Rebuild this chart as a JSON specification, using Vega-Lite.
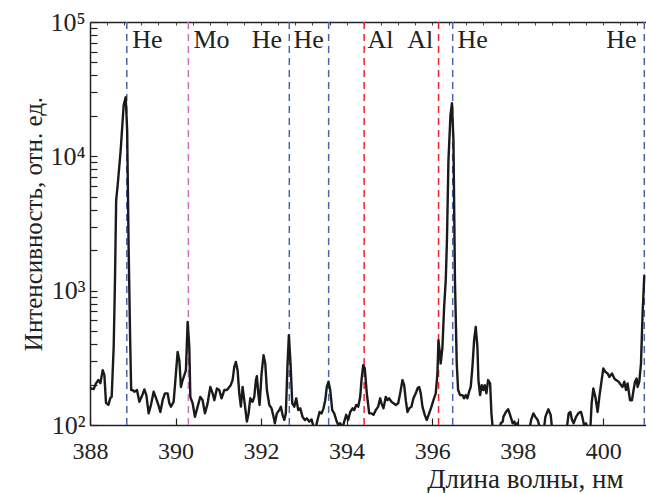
{
  "$schema": "https://vega.github.io/schema/vega-lite/v6.json",
  "autosize": {"type": "none"},
  "padding": {"left": 90, "top": 22, "right": 0, "bottom": 68},
  "width": 556,
  "height": 403,
  "background": "white",
  "config": {"view": {"stroke": null}},
  "datasets": {
    "lines": [
      {"nm": 388.86, "element": "He"},
      {"nm": 390.30, "element": "Mo"},
      {"nm": 392.66, "element": "He"},
      {"nm": 393.58, "element": "He"},
      {"nm": 394.41, "element": "Al"},
      {"nm": 396.15, "element": "Al"},
      {"nm": 396.48, "element": "He"},
      {"nm": 400.96, "element": "He"}
    ],
    "labels": [
      {"label": "He", "nm": 388.99},
      {"label": "Mo", "nm": 390.42},
      {"label": "He", "nm": 391.78},
      {"label": "He", "nm": 392.76},
      {"label": "Al", "nm": 394.49},
      {"label": "Al", "nm": 395.42},
      {"label": "He", "nm": 396.59},
      {"label": "He", "nm": 400.07}
    ],
    "spectrum": [
      {"w":388.00,"i":188},{"w":388.086,"i":185},{"w":388.14,"i":204},{"w":388.196,"i":216},{"w":388.243,"i":205},{"w":388.297,"i":256},{"w":388.336,"i":235},{"w":388.374,"i":146},{"w":388.43,"i":141},{"w":388.477,"i":159},{"w":388.507,"i":162},{"w":388.554,"i":382},{"w":388.584,"i":1197},{"w":388.612,"i":4715},{"w":388.647,"i":6100},{"w":388.717,"i":11100},{"w":388.787,"i":24000},{"w":388.834,"i":27520},{"w":388.869,"i":15640},{"w":388.904,"i":2001},{"w":388.939,"i":428},{"w":388.963,"i":182},{"w":388.998,"i":182},{"w":389.037,"i":177},{"w":389.098,"i":182},{"w":389.154,"i":149},{"w":389.208,"i":162},{"w":389.271,"i":184},{"w":389.318,"i":167},{"w":389.371,"i":122},{"w":389.425,"i":141},{"w":389.488,"i":177},{"w":389.542,"i":159},{"w":389.598,"i":141},{"w":389.645,"i":125},{"w":389.699,"i":153},{"w":389.752,"i":172},{"w":389.815,"i":172},{"w":389.855,"i":145},{"w":389.893,"i":137},{"w":389.956,"i":149},{"w":390.009,"i":242},{"w":390.049,"i":350},{"w":390.089,"i":304},{"w":390.126,"i":192},{"w":390.166,"i":216},{"w":390.206,"i":235},{"w":390.243,"i":256},{"w":390.283,"i":586},{"w":390.322,"i":382},{"w":390.346,"i":162},{"w":390.4,"i":145},{"w":390.453,"i":115},{"w":390.516,"i":137},{"w":390.579,"i":162},{"w":390.633,"i":153},{"w":390.687,"i":122},{"w":390.75,"i":145},{"w":390.813,"i":192},{"w":390.867,"i":172},{"w":390.907,"i":153},{"w":390.967,"i":187},{"w":391.023,"i":182},{"w":391.077,"i":158},{"w":391.14,"i":182},{"w":391.201,"i":182},{"w":391.257,"i":192},{"w":391.29,"i":198},{"w":391.334,"i":216},{"w":391.374,"i":271},{"w":391.411,"i":295},{"w":391.451,"i":256},{"w":391.49,"i":172},{"w":391.528,"i":137},{"w":391.568,"i":192},{"w":391.621,"i":141},{"w":391.668,"i":106},{"w":391.708,"i":122},{"w":391.748,"i":158},{"w":391.801,"i":149},{"w":391.841,"i":162},{"w":391.879,"i":216},{"w":391.902,"i":231},{"w":391.935,"i":172},{"w":391.965,"i":141},{"w":392.012,"i":242},{"w":392.058,"i":331},{"w":392.098,"i":287},{"w":392.136,"i":182},{"w":392.192,"i":141},{"w":392.245,"i":133},{"w":392.292,"i":115},{"w":392.322,"i":103},{"w":392.369,"i":122},{"w":392.425,"i":129},{"w":392.463,"i":137},{"w":392.502,"i":119},{"w":392.542,"i":109},{"w":392.579,"i":122},{"w":392.619,"i":287},{"w":392.65,"i":467},{"w":392.689,"i":287},{"w":392.729,"i":145},{"w":392.776,"i":137},{"w":392.822,"i":158},{"w":392.869,"i":129},{"w":392.916,"i":133},{"w":392.97,"i":115},{"w":393.023,"i":109},{"w":393.07,"i":112},{"w":393.126,"i":106},{"w":393.18,"i":110},{"w":393.227,"i":97},{"w":393.273,"i":95},{"w":393.32,"i":109},{"w":393.367,"i":125},{"w":393.414,"i":122},{"w":393.46,"i":133},{"w":393.5,"i":153},{"w":393.537,"i":192},{"w":393.577,"i":210},{"w":393.617,"i":182},{"w":393.664,"i":129},{"w":393.71,"i":122},{"w":393.757,"i":109},{"w":393.804,"i":100},{"w":393.85,"i":103},{"w":393.904,"i":95},{"w":393.944,"i":106},{"w":393.991,"i":119},{"w":394.037,"i":109},{"w":394.084,"i":125},{"w":394.138,"i":133},{"w":394.178,"i":129},{"w":394.224,"i":141},{"w":394.271,"i":137},{"w":394.318,"i":162},{"w":394.348,"i":216},{"w":394.388,"i":279},{"w":394.425,"i":264},{"w":394.472,"i":172},{"w":394.528,"i":122},{"w":394.582,"i":122},{"w":394.629,"i":119},{"w":394.682,"i":129},{"w":394.738,"i":137},{"w":394.785,"i":158},{"w":394.815,"i":145},{"w":394.862,"i":133},{"w":394.916,"i":162},{"w":394.956,"i":153},{"w":394.995,"i":158},{"w":395.049,"i":149},{"w":395.096,"i":145},{"w":395.15,"i":141},{"w":395.206,"i":145},{"w":395.252,"i":172},{"w":395.306,"i":216},{"w":395.346,"i":198},{"w":395.383,"i":153},{"w":395.423,"i":125},{"w":395.463,"i":133},{"w":395.516,"i":137},{"w":395.563,"i":158},{"w":395.617,"i":172},{"w":395.657,"i":187},{"w":395.696,"i":192},{"w":395.734,"i":172},{"w":395.773,"i":137},{"w":395.827,"i":119},{"w":395.874,"i":109},{"w":395.93,"i":122},{"w":395.984,"i":137},{"w":396.03,"i":153},{"w":396.084,"i":172},{"w":396.124,"i":242},{"w":396.147,"i":428},{"w":396.171,"i":361},{"w":396.201,"i":287},{"w":396.241,"i":382},{"w":396.28,"i":758},{"w":396.318,"i":1197},{"w":396.346,"i":2375},{"w":396.381,"i":9350},{"w":396.428,"i":20220},{"w":396.463,"i":24830},{"w":396.498,"i":13150},{"w":396.533,"i":1197},{"w":396.575,"i":287},{"w":396.607,"i":182},{"w":396.654,"i":167},{"w":396.708,"i":167},{"w":396.748,"i":158},{"w":396.785,"i":167},{"w":396.825,"i":158},{"w":396.864,"i":177},{"w":396.902,"i":192},{"w":396.942,"i":271},{"w":396.981,"i":428},{"w":397.019,"i":538},{"w":397.058,"i":382},{"w":397.082,"i":216},{"w":397.121,"i":167},{"w":397.159,"i":198},{"w":397.199,"i":182},{"w":397.229,"i":198},{"w":397.269,"i":172},{"w":397.308,"i":216},{"w":397.355,"i":204},{"w":397.386,"i":122},{"w":397.416,"i":95},{"w":397.456,"i":80},{"w":397.526,"i":80},{"w":397.573,"i":85},{"w":397.603,"i":103},{"w":397.65,"i":106},{"w":397.666,"i":115},{"w":397.724,"i":125},{"w":397.776,"i":131},{"w":397.822,"i":119},{"w":397.883,"i":103},{"w":397.923,"i":106},{"w":397.963,"i":95},{"w":398.0,"i":104},{"w":398.04,"i":80},{"w":398.157,"i":80},{"w":398.257,"i":85},{"w":398.313,"i":109},{"w":398.367,"i":122},{"w":398.414,"i":115},{"w":398.467,"i":109},{"w":398.523,"i":95},{"w":398.6,"i":85},{"w":398.647,"i":115},{"w":398.717,"i":131},{"w":398.771,"i":119},{"w":398.818,"i":85},{"w":398.93,"i":80},{"w":399.044,"i":80},{"w":399.131,"i":85},{"w":399.192,"i":122},{"w":399.231,"i":125},{"w":399.271,"i":109},{"w":399.308,"i":103},{"w":399.364,"i":115},{"w":399.425,"i":123},{"w":399.481,"i":125},{"w":399.519,"i":112},{"w":399.558,"i":97},{"w":399.598,"i":103},{"w":399.636,"i":95},{"w":399.692,"i":85},{"w":399.729,"i":145},{"w":399.769,"i":187},{"w":399.816,"i":162},{"w":399.869,"i":125},{"w":399.909,"i":162},{"w":399.963,"i":216},{"w":400.002,"i":264},{"w":400.049,"i":249},{"w":400.103,"i":242},{"w":400.143,"i":228},{"w":400.206,"i":242},{"w":400.259,"i":222},{"w":400.299,"i":216},{"w":400.36,"i":210},{"w":400.416,"i":198},{"w":400.453,"i":192},{"w":400.493,"i":210},{"w":400.533,"i":182},{"w":400.57,"i":204},{"w":400.626,"i":153},{"w":400.673,"i":153},{"w":400.703,"i":177},{"w":400.743,"i":210},{"w":400.78,"i":222},{"w":400.804,"i":192},{"w":400.843,"i":210},{"w":400.883,"i":287},{"w":400.92,"i":677},{"w":400.96,"i":1304}
    ]
  },
  "resolve": {"axis": {"x": "independent", "y": "independent"}},
  "layer": [
    {
      "data": {"name": "lines"},
      "mark": {"type": "rule", "strokeDash": [7, 5], "strokeWidth": 1.5},
      "encoding": {
        "x": {
          "field": "nm", "type": "quantitative",
          "scale": {"domain": [388, 401], "nice": false, "zero": false},
          "axis": {
            "orient": "bottom",
            "values": [388, 390, 392, 394, 396, 398, 400],
            "tickSize": -7, "tickColor": "#222", "tickWidth": 1.2,
            "domainColor": "#222", "domainWidth": 1.5,
            "labelFont": "Liberation Serif", "labelFontSize": 24, "labelColor": "#222",
            "labelPadding": 21, "labelFlush": false, "labelOverlap": false,
            "grid": false,
            "title": "Длина волны, нм",
            "titleFont": "Liberation Serif", "titleFontSize": 27, "titleFontWeight": "normal", "titleColor": "#222",
            "titleX": 533, "titleY": 54, "titleAlign": "right", "titleBaseline": "middle"
          }
        },
        "color": {
          "field": "element", "type": "nominal",
          "scale": {"domain": ["He", "Mo", "Al"], "range": ["#4a64b0", "#cc72c2", "#e8262c"]},
          "legend": null
        }
      }
    },
    {
      "data": {"name": "spectrum"},
      "mark": {"type": "line", "color": "#1a1a1a", "strokeWidth": 2.4, "clip": true, "strokeJoin": "round"},
      "encoding": {
        "x": {
          "field": "w", "type": "quantitative",
          "axis": {
            "orient": "top",
            "values": [388.4, 388.8, 389.2, 389.6, 390.0, 390.4, 390.8, 391.2, 391.6, 392.0, 392.4, 392.8, 393.2, 393.6, 394.0, 394.4, 394.8, 395.2, 395.6, 396.0, 396.4, 396.8, 397.2, 397.6, 398.0, 398.4, 398.8, 399.2, 399.6, 400.0, 400.4, 400.8],
            "tickSize": -3, "tickColor": "#444", "tickWidth": 1,
            "domainColor": "#222", "domainWidth": 1.5,
            "labels": false, "grid": false, "title": null
          }
        },
        "y": {
          "field": "i", "type": "quantitative",
          "scale": {"type": "log", "domain": [100, 100000], "nice": false},
          "axis": {
            "orient": "left",
            "values": [100, 200, 300, 400, 500, 600, 700, 800, 900, 1000, 2000, 3000, 4000, 5000, 6000, 7000, 8000, 9000, 10000, 20000, 30000, 40000, 50000, 60000, 70000, 80000, 90000, 100000],
            "labelExpr": "datum.value == 100 ? '10²' : datum.value == 1000 ? '10³' : datum.value == 10000 ? '10⁴' : datum.value == 100000 ? '10⁵' : ''",
            "tickSize": -7, "tickColor": "#222", "tickWidth": 1.2,
            "domainColor": "#222", "domainWidth": 1.5,
            "labelFont": "Liberation Serif", "labelFontSize": 26, "labelColor": "#222",
            "labelPadding": 12, "labelOverlap": false, "labelFlush": false, "labelBaseline": "middle",
            "grid": false,
            "title": "Интенсивность, отн. ед.",
            "titleFont": "Liberation Serif", "titleFontSize": 25, "titleFontWeight": "normal", "titleColor": "#222",
            "titlePadding": 3
          }
        }
      }
    },
    {
      "data": {"name": "labels"},
      "mark": {"type": "text", "align": "left", "baseline": "middle", "font": "Liberation Serif", "fontSize": 26, "color": "#222"},
      "encoding": {
        "x": {"field": "nm", "type": "quantitative", "axis": null},
        "y": {"datum": 73000, "type": "quantitative", "axis": null},
        "text": {"field": "label"}
      }
    }
  ]
}
